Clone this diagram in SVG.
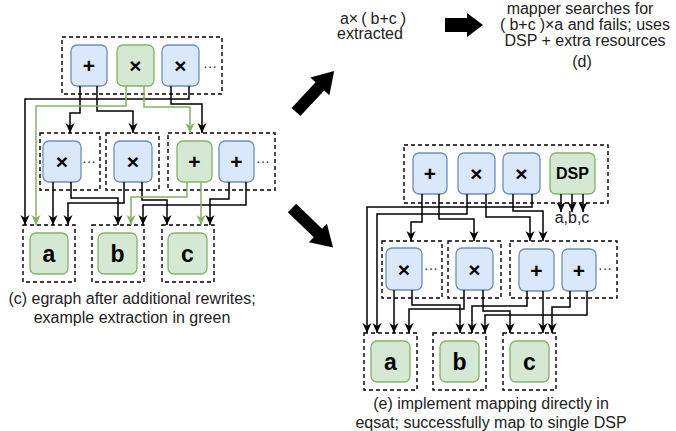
<svg xmlns="http://www.w3.org/2000/svg" width="676" height="431" viewBox="0 0 676 431">
<style>
.t{font-family:"Liberation Sans",Arial,sans-serif;fill:#222}
.lbl{font-family:"Liberation Sans",Arial,sans-serif;font-weight:bold;fill:#000;text-anchor:middle;dominant-baseline:central}
.op{font-size:21px}
.leaf{font-size:23px}
.dots{font-family:"Liberation Sans",Arial,sans-serif;font-size:14px;fill:#333;text-anchor:middle;dominant-baseline:central}
.blue{fill:#dae8fc;stroke:#6c8ebf;stroke-width:1.3}
.green{fill:#d5e8d4;stroke:#82b366;stroke-width:1.3}
.box{fill:none;stroke:#000;stroke-width:1.4;stroke-dasharray:4 3}
.k{fill:none;stroke:#000;stroke-width:1.5;marker-end:url(#ak)}
.g{fill:none;stroke:#82b366;stroke-width:1.5;marker-end:url(#ag)}
.big{fill:#000}
</style>
<defs>
<marker id="ak" viewBox="0 0 10 10" refX="10" refY="5" markerWidth="10" markerHeight="10" markerUnits="userSpaceOnUse" orient="auto"><path d="M0,0.5 L10,5 L0,9.5 L3,5 Z" fill="#000"/></marker>
<marker id="ag" viewBox="0 0 10 10" refX="10" refY="5" markerWidth="10" markerHeight="10" markerUnits="userSpaceOnUse" orient="auto"><path d="M0,0.5 L10,5 L0,9.5 L3,5 Z" fill="#82b366"/></marker>
</defs>

<!-- (c) boxes -->
<g id="c-top-class"><rect class="box" x="62" y="37" width="160" height="57"/><text class="dots" x="210" y="66">···</text></g>
<g id="c-top-plus"><rect class="blue" x="71" y="45" width="36" height="41" rx="6"/><text class="lbl op" x="89" y="65.5">+</text></g>
<g id="c-top-mul-green"><rect class="green" x="117" y="45" width="37" height="41" rx="6"/><text class="lbl op" x="135.5" y="65.5">×</text></g>
<g id="c-top-mul"><rect class="blue" x="162" y="45" width="37" height="41" rx="6"/><text class="lbl op" x="180.5" y="65.5">×</text></g>

<g id="c-mid-class1"><rect class="box" x="40" y="133" width="60" height="57"/><text class="dots" x="89" y="161">···</text></g>
<g id="c-mid-mul1"><rect class="blue" x="43" y="141" width="38" height="41" rx="6"/><text class="lbl op" x="62" y="161.5">×</text></g>
<g id="c-mid-class2"><rect class="box" x="106" y="133" width="53" height="57"/></g>
<g id="c-mid-mul2"><rect class="blue" x="114" y="141" width="38" height="41" rx="6"/><text class="lbl op" x="133" y="161.5">×</text></g>
<g id="c-mid-class3"><rect class="box" x="168" y="133" width="107" height="57"/><text class="dots" x="263" y="161">···</text></g>
<g id="c-mid-plus-green"><rect class="green" x="177" y="141" width="35" height="41" rx="6"/><text class="lbl op" x="194.5" y="161.5">+</text></g>
<g id="c-mid-plus"><rect class="blue" x="219" y="141" width="35" height="41" rx="6"/><text class="lbl op" x="236.5" y="161.5">+</text></g>

<g id="c-a"><rect class="box" x="23" y="225" width="52" height="57"/><rect class="green" x="30" y="233" width="38" height="41" rx="6"/><text class="lbl leaf" x="49" y="253.5">a</text></g>
<g id="c-b"><rect class="box" x="92" y="225" width="52" height="57"/><rect class="green" x="98" y="233" width="39" height="41" rx="6"/><text class="lbl leaf" x="117.5" y="253.5">b</text></g>
<g id="c-c"><rect class="box" x="162" y="225" width="52" height="57"/><rect class="green" x="168" y="233" width="39" height="41" rx="6"/><text class="lbl leaf" x="187.5" y="253.5">c</text></g>

<g id="c-connectors">
<path class="k" d="M80,86 V113 H70 V133"/>
<path class="k" d="M97,86 V111 H133 V133"/>
<path class="k" d="M171,86 V104 H202 V133"/>
<path class="k" d="M189,86 V99 H25 V225"/>
<path class="g" d="M126,86 V106 H36 V225"/>
<path class="g" d="M144,86 V107 H190 V133"/>
<path class="k" d="M53,182 V225"/>
<path class="k" d="M71,182 V198 H118 V225"/>
<path class="k" d="M124,182 V203 H68 V225"/>
<path class="k" d="M142,182 V200 H167 V225"/>
<path class="k" d="M229,182 V199 H210 V225"/>
<path class="k" d="M246,182 V205 H143 V225"/>
<path class="g" d="M187,182 V197 H131 V225"/>
<path class="g" d="M201,182 V225"/>
</g>

<g id="c-caption">
<text class="t" x="132" y="304" font-size="16" text-anchor="middle">(c) egraph after additional rewrites;</text>
<text class="t" x="132" y="323" font-size="16" text-anchor="middle">example extraction in green</text>
</g>

<!-- big arrows -->
<g id="arrow-up">
<polygon class="big" transform="translate(296,112) rotate(-47)" points="0,-6 35,-6 35,-13 56,0 35,13 35,6 0,6"/>
</g>
<g id="arrow-down">
<polygon class="big" transform="translate(292,208) rotate(44)" points="0,-6 36,-6 36,-13 57,0 36,13 36,6 0,6"/>
</g>
<g id="arrow-right">
<polygon class="big" points="445,18 467,18 467,13 483,25 467,37 467,32 445,32"/>
</g>

<!-- (d) -->
<g id="d-extracted">
<text class="t" x="373" y="24" font-size="16" text-anchor="middle">a×<tspan dx="3">(</tspan><tspan dx="4">b+c</tspan><tspan dx="4">)</tspan></text>
<text class="t" x="370" y="39" font-size="16" text-anchor="middle">extracted</text>
</g>
<g id="d-text">
<text class="t" x="580" y="14" font-size="16" text-anchor="middle">mapper searches for</text>
<text class="t" x="585" y="30" font-size="16" text-anchor="middle">(<tspan dx="4">b+c</tspan><tspan dx="4">)</tspan>×a and fails; uses</text>
<text class="t" x="585" y="45.5" font-size="16" text-anchor="middle">DSP + extra resources</text>
<text class="t" x="582" y="67" font-size="16" text-anchor="middle">(d)</text>
</g>

<!-- (e) -->
<g id="e-top-class"><rect class="box" x="404" y="145" width="204" height="58"/></g>
<g id="e-top-plus"><rect class="blue" x="413" y="153" width="34" height="41" rx="6"/><text class="lbl op" x="430" y="173.5">+</text></g>
<g id="e-top-mul1"><rect class="blue" x="458" y="153" width="37" height="41" rx="6"/><text class="lbl op" x="476.5" y="173.5">×</text></g>
<g id="e-top-mul2"><rect class="blue" x="503" y="153" width="37" height="41" rx="6"/><text class="lbl op" x="521.5" y="173.5">×</text></g>
<g id="e-dsp"><rect class="green" x="550" y="153" width="45" height="41" rx="6"/><text class="lbl" x="572.5" y="173.5" font-size="16">DSP</text></g>
<g id="e-abc"><text class="t" x="572" y="223" font-size="16" text-anchor="middle">a,b,c</text></g>

<g id="e-mid-class1"><rect class="box" x="382" y="241" width="60" height="57"/><text class="dots" x="431" y="268">···</text></g>
<g id="e-mid-mul1"><rect class="blue" x="386" y="248" width="36" height="42" rx="6"/><text class="lbl op" x="404" y="269">×</text></g>
<g id="e-mid-class2"><rect class="box" x="448" y="241" width="53" height="57"/></g>
<g id="e-mid-mul2"><rect class="blue" x="456" y="248" width="37" height="42" rx="6"/><text class="lbl op" x="474.5" y="269">×</text></g>
<g id="e-mid-class3"><rect class="box" x="510" y="241" width="107" height="57"/><text class="dots" x="605" y="268">···</text></g>
<g id="e-mid-plus1"><rect class="blue" x="519" y="249" width="35" height="42" rx="6"/><text class="lbl op" x="536.5" y="270">+</text></g>
<g id="e-mid-plus2"><rect class="blue" x="562" y="249" width="34" height="42" rx="6"/><text class="lbl op" x="579" y="270">+</text></g>

<g id="e-a"><rect class="box" x="364" y="333" width="53" height="57"/><rect class="green" x="371" y="341" width="39" height="41" rx="6"/><text class="lbl leaf" x="390.5" y="361.5">a</text></g>
<g id="e-b"><rect class="box" x="433" y="333" width="53" height="57"/><rect class="green" x="440" y="341" width="39" height="41" rx="6"/><text class="lbl leaf" x="459.5" y="361.5">b</text></g>
<g id="e-c"><rect class="box" x="503" y="333" width="53" height="57"/><rect class="green" x="510" y="341" width="39" height="41" rx="6"/><text class="lbl leaf" x="529.5" y="361.5">c</text></g>

<g id="e-connectors">
<path class="k" d="M422,194 V222 H411 V241"/>
<path class="k" d="M439,194 V219 H474 V241"/>
<path class="k" d="M467,194 V214 H377 V333"/>
<path class="k" d="M486,194 V217 H530 V241"/>
<path class="k" d="M532,194 V207 H367 V333"/>
<path class="k" d="M513,194 V211 H543 V241"/>
<path class="k" d="M561,194 V212"/>
<path class="k" d="M572,194 V212"/>
<path class="k" d="M583,194 V212"/>
<path class="k" d="M394,290 V333"/>
<path class="k" d="M412,290 V305 H460 V333"/>
<path class="k" d="M464,290 V309 H409 V333"/>
<path class="k" d="M483,290 V311 H510 V333"/>
<path class="k" d="M527,291 V306 H472 V333"/>
<path class="k" d="M543,291 V333"/>
<path class="k" d="M570,291 V307 H552 V333"/>
<path class="k" d="M587,291 V315 H485 V333"/>
</g>

<g id="e-caption">
<text class="t" x="491" y="409" font-size="16" text-anchor="middle">(e) implement mapping directly in</text>
<text class="t" x="491" y="428" font-size="16" text-anchor="middle">eqsat; successfully map to single DSP</text>
</g>
</svg>
